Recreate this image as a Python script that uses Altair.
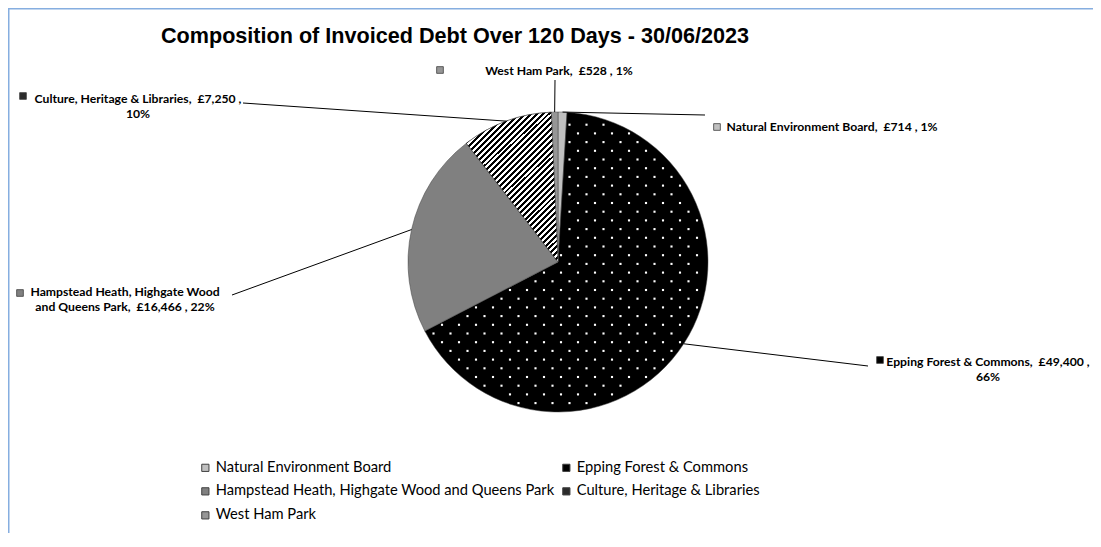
import math
import altair as alt
import pandas as pd

# ---------------- data ----------------
categories = [
    "Natural Environment Board",
    "Epping Forest & Commons",
    "Hampstead Heath, Highgate Wood and Queens Park",
    "Culture, Heritage & Libraries",
    "West Ham Park",
]
amounts = [714, 49400, 16466, 7250, 528]
chart_title = "Composition of Invoiced Debt Over 120 Days - 30/06/2023"

total = sum(amounts)
pcts = [round(100 * a / total) for a in amounts]

# ---------------- styles ----------------
slice_colors = ["#C0C0C0", "#000000", "#808080", "#2B2B2B", "#969696"]
FRAME = "#86AEE0"

# ---------------- layout (px, relative to chart top-left) ----------------
W, H = 1085, 525
CX, CY, R = 550, 254, 150
label_x = [824, 980, 117, 130, 551]
label_y = [123, 358, 288, 95, 67]
key_x = [709, 872, 12, 15, 432]
key_y = [119, 352, 285, 88, 62]
leader_x = [697, 860, 224, 235, 547]
leader_y = [107, 358, 287, 95, 72]
wrap_mode = ["none", "pct", "word:Wood", "pct", "none"]


def make_label(name, amount, pct, mode):
    head = f"{name},\u00a0 £{amount:,} ,"
    if mode == "pct":
        return f"{head}\n{pct}%"
    if mode.startswith("word:"):
        w = mode.split(":")[1]
        head = head.replace(w + " ", w + "\n", 1)
    return f"{head} {pct}%"


df = pd.DataFrame({
    "category": categories,
    "amount": amounts,
    "order": list(range(len(categories))),
    "label": [make_label(c, a, p, m) for c, a, p, m in zip(categories, amounts, pcts, wrap_mode)],
    "tx": label_x, "ty": label_y,
    "kx": key_x, "ky": key_y,
    "lx": leader_x, "ly": leader_y,
})

legend = alt.Legend(
    title=None, orient="none", legendX=190, legendY=452,
    direction="horizontal", columns=2, symbolType="square", symbolSize=52,
    symbolStrokeColor="#404040", symbolStrokeWidth=1,
    labelFont="Lato", labelFontSize=14.7, labelColor="black", labelLimit=600,
    columnPadding=4, rowPadding=8, labelOffset=3,
)
color_enc = alt.Color("category:N", scale=alt.Scale(domain=categories, range=slice_colors), legend=legend)

base = alt.Chart(df)

# frame lines
one = alt.Chart(pd.DataFrame({"k": [0]}))
frame_v = one.mark_rule(color=FRAME, strokeWidth=1.5).encode(x=alt.value(0.75), y=alt.value(0), y2=alt.value(H))
frame_h = one.mark_rule(color=FRAME, strokeWidth=1.5).encode(y=alt.value(0.75), x=alt.value(0), x2=alt.value(W))

# pie
pie = base.mark_arc(radius=R, stroke="#404040", strokeWidth=0.5).encode(
    theta=alt.Theta("amount:Q", stack=True),
    order=alt.Order("order:Q", sort="ascending"),
    color=color_enc,
    x=alt.value(CX), y=alt.value(CY),
)

# diagonal stripe texture for Culture slice (linear gradient with hard stops)
N = 42
stops = []
for i in range(N):
    stops += [
        alt.GradientStop(color="black", offset=i / N),
        alt.GradientStop(color="black", offset=(i + 0.5) / N),
        alt.GradientStop(color="white", offset=(i + 0.5) / N),
        alt.GradientStop(color="white", offset=(i + 1) / N),
    ]
stripe_fill = alt.LinearGradient(gradient="linear", stops=stops, x1=0, y1=0, x2=0.73, y2=1.2)
stripes = base.mark_arc(radius=R, fill=stripe_fill, stroke="#404040", strokeWidth=0.5).encode(
    theta=alt.Theta("amount:Q", stack=True),
    order=alt.Order("order:Q", sort="ascending"),
    opacity=alt.condition(alt.datum.category == categories[3], alt.value(1), alt.value(0)),
    x=alt.value(CX), y=alt.value(CY),
)

# white dot texture for Epping slice
a0 = 2 * math.pi * sum(amounts[:1]) / total
a1 = 2 * math.pi * sum(amounts[:2]) / total
DDX, DDY = 17, 8.7
ncols, nrows = 20, 36
dots = alt.Chart(alt.sequence(0, ncols * nrows, as_="i")).transform_calculate(
    row=f"floor(datum.i / {ncols})", col=f"datum.i % {ncols}"
).transform_calculate(
    px=f"{CX - R} + datum.col * {DDX} + (datum.row % 2) * {DDX / 2}",
    py=f"{CY - R} + 4 + datum.row * {DDY}",
).transform_calculate(
    ddx=f"datum.px - {CX}", ddy=f"datum.py - {CY}"
).transform_calculate(
    rr="sqrt(datum.ddx * datum.ddx + datum.ddy * datum.ddy)",
    ang="(atan2(datum.ddx, -datum.ddy) + 2 * PI) % (2 * PI)",
).transform_filter(
    f"datum.rr < {R - 3} && datum.ang > {a0} && datum.ang < {a1}"
    f" && (datum.ang - {a0} > PI / 2 || datum.rr * sin(datum.ang - {a0}) > 2)"
    f" && ({a1} - datum.ang > PI / 2 || datum.rr * sin({a1} - datum.ang) > 2)"
).mark_square(size=4.5, color="white", opacity=1).encode(
    x=alt.X("px:Q", scale=None, axis=None), y=alt.Y("py:Q", scale=None, axis=None)
)

# leader lines from slice mid-angle on the rim to label
leaders = base.transform_window(
    cum="sum(amount)", sort=[alt.SortField("order")], frame=[None, 0]
).transform_joinaggregate(tot="sum(amount)").transform_calculate(
    mid="2 * PI * (datum.cum - datum.amount / 2) / datum.tot"
).transform_calculate(
    ex=f"{CX} + {R} * sin(datum.mid)", ey=f"{CY} - {R} * cos(datum.mid)"
).mark_rule(color="black", strokeWidth=1).encode(
    x=alt.X("ex:Q", scale=None, axis=None), y=alt.Y("ey:Q", scale=None, axis=None),
    x2="lx:Q", y2="ly:Q",
)

keys = base.mark_square(size=45, stroke="#404040", strokeWidth=0.8, opacity=1).encode(
    x=alt.X("kx:Q", scale=None, axis=None), y=alt.Y("ky:Q", scale=None, axis=None), color=color_enc
)

labels = base.mark_text(
    font="Lato", fontWeight="bold", fontSize=12.2, align="center", baseline="alphabetic",
    lineBreak="\n", lineHeight=15, color="black",
).encode(
    x=alt.X("tx:Q", scale=None, axis=None), y=alt.Y("ty:Q", scale=None, axis=None), text="label:N"
)

title = alt.Chart(pd.DataFrame({"t": [chart_title]})).mark_text(
    font="Liberation Sans", fontWeight="bold", fontSize=21.6, align="center",
    baseline="alphabetic", color="black",
).encode(text="t:N", x=alt.value(447), y=alt.value(35))

chart = alt.layer(
    frame_v, frame_h, pie, stripes, dots, leaders, keys, labels, title
).properties(
    width=W, height=H, padding=0, autosize=alt.AutoSizeParams(type="none")
).configure_view(strokeWidth=0)

chart.save("out.html", embed_options={"renderer": "svg", "actions": False})
